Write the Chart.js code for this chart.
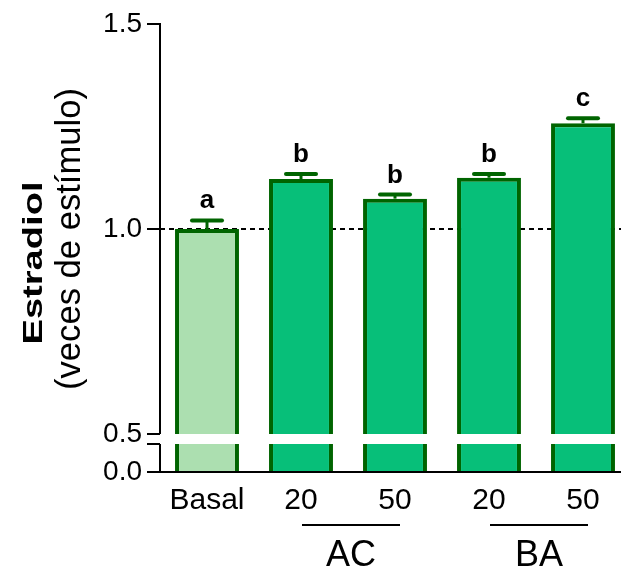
<!DOCTYPE html>
<html>
<head>
<meta charset="utf-8">
<script src="https://cdn.jsdelivr.net/npm/chart.js@4/dist/chart.umd.min.js"></script>
<style>
  html, body { margin: 0; padding: 0; background: #fff; overflow: hidden; }
  #wrap { width: 621px; height: 572px; overflow: hidden; position: relative; }
  #c { display: block; }
</style>
</head>
<body>
<div id="wrap"><canvas id="c" width="630" height="572"></canvas></div>
<script>
// Estradiol release, fold over basal stimulation
const categories = ['Basal', '20', '50', '20', '50'];
const means      = [1.000, 1.122, 1.074, 1.125, 1.258];
const errors     = [0.021, 0.012, 0.010, 0.009, 0.012];
const letters    = ['a', 'b', 'b', 'b', 'c'];
const groups     = [{ label: 'AC', from: 1, to: 2 }, { label: 'BA', from: 3, to: 4 }];
const upperTicks = [0.5, 1.0, 1.5];
const lowerTicks = [0.0, 0.5];
const breakAt    = 0.5;   // value where the y axis is broken
const refLine    = 1.0;   // dashed reference level

const FONT = "'Liberation Sans', Arial, Helvetica, sans-serif";
const EDGE = '#006400';
const fills = categories.map((c, i) => i === 0 ? '#acdfb0' : '#07bf79');

// Upper segment of the broken axis, lower segment below it
const upperData = means.map(v => [breakAt, v]);
const lowerData = means.map(v => Math.min(v, breakAt));

const yTickOpts = (vals) => ({
  afterBuildTicks: s => { s.ticks = vals.map(v => ({ value: v })); },
  afterFit: s => { s.width = 160; }
});

const brokenAxis = {
  id: 'brokenAxis',
  beforeDatasetsDraw(chart) {
    const { ctx, chartArea } = chart;
    const yU = chart.scales.y;
    const yRef = yU.getPixelForValue(refLine);
    ctx.save();
    ctx.strokeStyle = '#000';
    ctx.lineWidth = 2;
    ctx.setLineDash([5, 4]);
    ctx.beginPath();
    ctx.moveTo(chartArea.left, Math.round(yRef));
    ctx.lineTo(chartArea.right, Math.round(yRef));
    ctx.stroke();
    ctx.restore();
  },
  afterDatasetsDraw(chart) {
    const { ctx } = chart;
    const x = chart.scales.x, yU = chart.scales.y, yL = chart.scales.yLow;
    ctx.save();
    // axis line in two pieces around the break
    const ax = x.left;
    ctx.strokeStyle = '#000';
    ctx.lineWidth = 2;
    ctx.beginPath();
    ctx.moveTo(ax, yU.getPixelForValue(upperTicks[upperTicks.length - 1]) - 1);
    ctx.lineTo(ax, yU.getPixelForValue(breakAt));
    ctx.moveTo(ax, yL.getPixelForValue(breakAt));
    ctx.lineTo(ax, yL.getPixelForValue(0));
    ctx.stroke();

    // error bars (upper side only) and significance letters
    means.forEach((m, i) => {
      const px = x.getPixelForValue(i);
      const yTop = yU.getPixelForValue(m);
      const yCap = yU.getPixelForValue(m + errors[i]);
      ctx.strokeStyle = EDGE;
      ctx.lineCap = 'butt';
      ctx.lineWidth = 3;
      ctx.beginPath();
      ctx.moveTo(px, yTop);
      ctx.lineTo(px, yCap);
      ctx.stroke();
      ctx.lineCap = 'round';
      ctx.lineWidth = 4;
      ctx.beginPath();
      ctx.moveTo(px - 15, yCap);
      ctx.lineTo(px + 15, yCap);
      ctx.stroke();

      ctx.fillStyle = '#000';
      ctx.font = 'bold 26px ' + FONT;
      ctx.textAlign = 'center';
      ctx.textBaseline = 'alphabetic';
      ctx.fillText(letters[i], px, yCap - 12);
    });
    ctx.restore();
  },
  afterDraw(chart) {
    const { ctx } = chart;
    const x = chart.scales.x;
    ctx.save();
    // group brackets under the dose labels
    ctx.strokeStyle = '#000';
    ctx.fillStyle = '#000';
    ctx.lineWidth = 2;
    groups.forEach(g => {
      const x1 = x.getPixelForValue(g.from) + 1;
      const x2 = x.getPixelForValue(g.to) + 5;
      ctx.beginPath();
      ctx.moveTo(x1, 525);
      ctx.lineTo(x2, 525);
      ctx.stroke();
      ctx.font = '36px ' + FONT;
      ctx.textAlign = 'center';
      ctx.textBaseline = 'alphabetic';
      ctx.fillText(g.label, (x1 + x2) / 2, 566);
    });

    // two-line y axis title, rotated
    const drawRot = (text, font, cx, baseX, len) => {
      ctx.save();
      ctx.font = font;
      const w = ctx.measureText(text).width;
      ctx.translate(baseX, cx);
      ctx.rotate(-Math.PI / 2);
      ctx.scale(len / w, 1);
      ctx.textAlign = 'center';
      ctx.textBaseline = 'alphabetic';
      ctx.fillText(text, 0, 0);
      ctx.restore();
    };
    drawRot('Estradiol', 'bold 28px ' + FONT, 263, 42, 163);
    drawRot('(veces de estímulo)', '35px ' + FONT, 239, 80, 302);
    ctx.restore();
  }
};

new Chart(document.getElementById('c'), {
  type: 'bar',
  data: {
    labels: categories,
    datasets: [
      {
        data: upperData,
        yAxisID: 'y',
        grouped: false,
        backgroundColor: fills,
        borderColor: EDGE,
        borderWidth: { top: 4, left: 4, right: 4, bottom: 0 },
        borderSkipped: false,
        barPercentage: 0.68,
        categoryPercentage: 1.0
      },
      {
        data: lowerData,
        yAxisID: 'yLow',
        grouped: false,
        backgroundColor: fills,
        borderColor: EDGE,
        borderWidth: { top: 0, left: 4, right: 4, bottom: 0 },
        borderSkipped: false,
        barPercentage: 0.68,
        categoryPercentage: 1.0
      }
    ]
  },
  options: {
    responsive: false,
    animation: false,
    layout: { padding: { left: 0, top: 24, right: 0, bottom: 0 } },
    plugins: { legend: { display: false }, tooltip: { enabled: false } },
    scales: {
      x: {
        type: 'category',
        grid: { display: false, drawTicks: false },
        border: { display: true, color: '#000', width: 2 },
        ticks: { color: '#000', font: { family: FONT, size: 30 }, padding: 11, maxRotation: 0, autoSkip: false },
        afterFit: s => { s.height = 100; }
      },
      y: {
        type: 'linear',
        position: 'left',
        stack: 'v',
        stackWeight: 420,
        weight: 1,
        min: 0.4756,
        max: 1.5,
        border: { display: false },
        grid: { display: true, drawOnChartArea: false, drawTicks: true, tickLength: 13, color: '#000', lineWidth: 2 },
        ticks: { color: '#000', font: { family: FONT, size: 28 }, padding: 5, autoSkip: false,
                 callback: v => v.toFixed(1) },
        ...yTickOpts(upperTicks)
      },
      yLow: {
        type: 'linear',
        position: 'left',
        stack: 'v',
        stackWeight: 28,
        weight: 0,
        min: 0,
        max: breakAt,
        border: { display: false },
        grid: { display: true, drawOnChartArea: false, drawTicks: true, tickLength: 13, color: '#000', lineWidth: 2 },
        ticks: { color: '#000', font: { family: FONT, size: 28 }, padding: 5, autoSkip: false,
                 callback: v => v === 0 ? v.toFixed(1) : '' },
        ...yTickOpts(lowerTicks)
      }
    }
  },
  plugins: [brokenAxis]
});
</script>
</body>
</html>
